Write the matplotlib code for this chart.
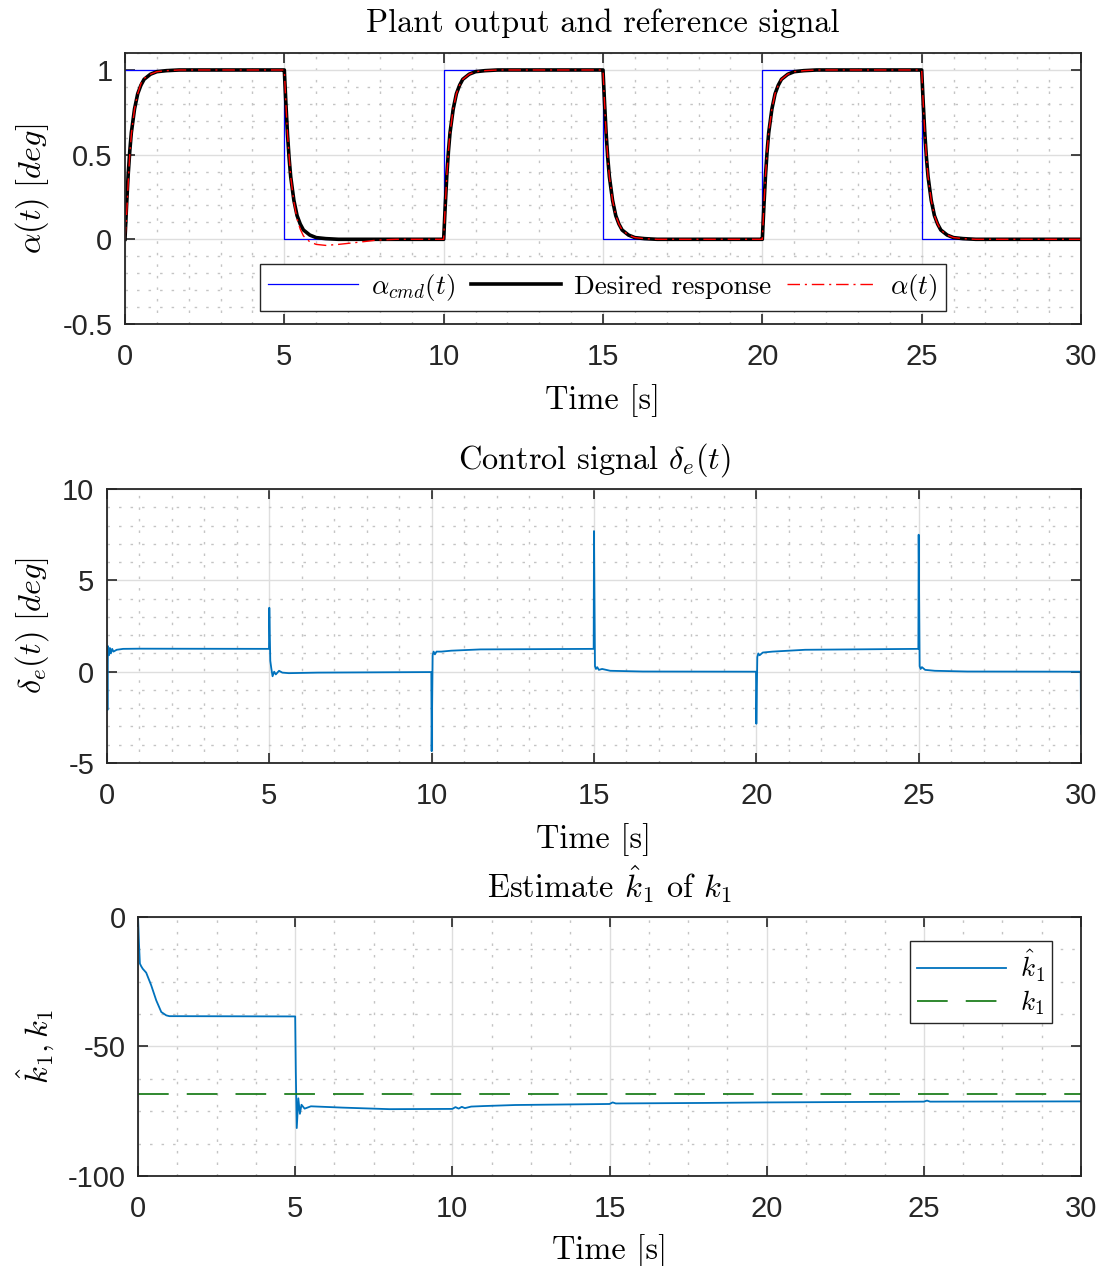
import numpy as np
import matplotlib
matplotlib.use("Agg")
import matplotlib.pyplot as plt
from matplotlib.ticker import MultipleLocator

plt.rcParams['mathtext.fontset'] = 'cm'
plt.rcParams['axes.unicode_minus'] = False
plt.rcParams['font.family'] = ['Liberation Sans', 'DejaVu Sans']

# ---- plant output / reference ----
t_up = [0, 10, 20]          # command switches to 1
t_down = [5, 15, 25]        # command switches to 0
# shape of the desired step response (time after switch, value)
step_t = [0, 0.05, 0.1, 0.15, 0.2, 0.3, 0.4, 0.5, 0.6, 0.8, 1.0, 1.3, 1.7, 2.5, 4.99]
step_y = [0, 0.20, 0.38, 0.52, 0.63, 0.77, 0.86, 0.91, 0.945, 0.975, 0.99, 0.996, 1.0, 1.0, 1.0]
# plant output on the first rise and first drop (undershoot); later it follows the desired response
alpha_fall1_t = [0, 0.05, 0.1, 0.2, 0.3, 0.4, 0.5, 0.6, 0.8, 1.0, 1.3, 1.7, 2.2, 2.9, 3.5, 4.99]
alpha_fall1_y = [1, 0.80, 0.62, 0.37, 0.22, 0.12, 0.06, 0.02, -0.015, -0.03, -0.036, -0.03, -0.02, -0.005, 0.0, 0.0]
alpha_rise1_t = [0, 0.05, 0.1, 0.15, 0.2, 0.3, 0.4, 0.5, 0.6, 0.8, 1.0, 1.3, 1.7, 2.5, 4.99]
alpha_rise1_y = [0, 0.14, 0.33, 0.50, 0.62, 0.77, 0.86, 0.92, 0.95, 0.975, 0.99, 0.996, 1.0, 1.0, 1.0]

cmd_t = [0, 5, 5, 10, 10, 15, 15, 20, 20, 25, 25, 30]
cmd_y = [1, 1, 0, 0, 1, 1, 0, 0, 1, 1, 0, 0]

# ---- control signal ----
de_t = [0, 0.015, 0.03, 0.06, 0.09, 0.12, 0.16, 0.2, 0.3, 0.5, 1.0, 4.99,
        5.0, 5.03, 5.06, 5.1, 5.15, 5.2, 5.3, 5.4, 5.6, 6.5, 9.99,
        10.0, 10.03, 10.06, 10.1, 10.15, 10.3, 10.6, 11.5, 14.99,
        15.0, 15.03, 15.06, 15.1, 15.15, 15.25, 15.5, 16.5, 19.99,
        20.0, 20.03, 20.06, 20.1, 20.2, 20.5, 21.5, 24.99,
        25.0, 25.03, 25.06, 25.1, 25.2, 25.5, 26.5, 29.99, 30.0]
de_v = [1.3, -2.1, 1.4, 0.9, 1.3, 1.0, 1.25, 1.1, 1.2, 1.25, 1.26, 1.25,
        3.5, 0.6, 0.2, -0.25, 0.0, -0.15, 0.05, -0.05, -0.08, -0.05, -0.02,
        -4.35, 0.9, 1.1, 0.95, 1.1, 1.1, 1.15, 1.22, 1.25,
        7.7, 0.3, 0.15, 0.25, 0.1, 0.15, 0.05, 0.01, 0.0,
        -2.85, 0.8, 1.0, 0.9, 1.05, 1.1, 1.2, 1.25,
        7.5, 0.3, 0.15, 0.25, 0.1, 0.05, 0.01, 0.0, -3.4]

# ---- parameter estimate ----
k_t = [0, 0.03, 0.06, 0.1, 0.15, 0.26, 0.42, 0.58, 0.74, 0.9, 1.0, 1.2, 5.0,
       5.02, 5.05, 5.1, 5.15, 5.2, 5.3, 5.5, 6.5, 8.0, 10.0, 10.1, 10.2, 10.3,
       10.4, 10.6, 11.0, 12.0, 15.0, 15.1, 15.2, 18.0, 20.0, 25.0, 25.1, 25.2, 30.0]
k_hat = [0, -10, -18, -19, -20, -21.5, -26.4, -32.2, -36.7, -38.0, -38.3, -38.3, -38.4,
         -60, -81.5, -70, -76, -72.5, -74, -73.1, -73.6, -74.2, -74.1, -73.4, -74.0, -73.3,
         -73.8, -73.2, -73.0, -72.6, -72.2, -71.6, -72.0, -71.8, -71.6, -71.3, -70.9, -71.3, -71.2]
k1_true = -68.5

mblue = '#0072BD'
cm_font = 'cmr10'
FS = 23.3   # titles / axis labels
TFS = 21    # tick labels
LFS = 19.5  # legends


def build(shape_t, shape_y, start, fall=False):
    tt = [start + s for s in shape_t]
    yy = [1 - v for v in shape_y] if fall else list(shape_y)
    return tt, yy


des_t, des_y, al_t, al_y = [], [], [], []
for s in sorted(t_up + t_down):
    fall = s in t_down
    tt, yy = build(step_t, step_y, s, fall)
    des_t += tt
    des_y += yy
    if s == 0:
        tt = [s + v for v in alpha_rise1_t]
        yy = alpha_rise1_y
    elif s == 5:
        tt = [s + v for v in alpha_fall1_t]
        yy = alpha_fall1_y
    al_t += tt
    al_y += yy


def style_axes(ax, xmin_step, ymin_step):
    ax.xaxis.set_minor_locator(MultipleLocator(xmin_step))
    ax.yaxis.set_minor_locator(MultipleLocator(ymin_step))
    ax.grid(True, which='major', color='#dedede', lw=1.0, ls='-')
    ax.grid(True, which='minor', color='#c4c4c4', lw=1.0, ls=(0, (1.8, 6.5)))
    ax.set_axisbelow(True)
    ax.tick_params(which='major', direction='in', length=7, width=1.2, top=True, right=True,
                   labelsize=TFS, colors='#262626', pad=9)
    ax.tick_params(axis='x', which='major', pad=14)
    ax.tick_params(which='minor', length=0)
    for sp in ax.spines.values():
        sp.set_color('#262626')
        sp.set_linewidth(1.3)


fig = plt.figure(figsize=(11.05, 12.66), dpi=100)

# top
ax1 = fig.add_axes([0.1131, 0.7441, 0.8652, 0.2140])
ax1.plot(cmd_t, cmd_y, color='b', lw=0.9, label=r'$\alpha_{cmd}(t)$')
ax1.plot(des_t, des_y, color='k', lw=2.6, label='Desired response')
ax1.plot(al_t, al_y, color='r', lw=1.0, dashes=(9, 3.5, 1.5, 3.5), label=r'$\alpha(t)$')
ax1.set_xlim(0, 30)
ax1.set_ylim(-0.5, 1.1)
ax1.set_yticks([-0.5, 0, 0.5, 1])
ax1.set_yticklabels(['-0.5', '0', '0.5', '1'])
style_axes(ax1, 1, 0.1)
ax1.set_title('Plant output and reference signal', family=cm_font, fontsize=FS, pad=15)
ax1.set_xlabel('Time [s]', family=cm_font, fontsize=FS, labelpad=9)
ax1.set_ylabel(r'$\alpha(t)\ [deg]$', fontsize=FS, labelpad=8)
leg = ax1.legend(loc='lower center', bbox_to_anchor=(0.5, 0.048), ncol=3, fancybox=False,
                 edgecolor='#262626', framealpha=1, prop={'family': cm_font, 'size': LFS},
                 handlelength=3.3, columnspacing=0.6, handletextpad=0.5, borderpad=0.3,
                 borderaxespad=0)
leg.get_frame().set_linewidth(1.0)

# middle
ax2 = fig.add_axes([0.0968, 0.3973, 0.8815, 0.2164])
ax2.plot(de_t, de_v, color=mblue, lw=1.3)
ax2.set_xlim(0, 30)
ax2.set_ylim(-5, 10)
ax2.set_yticks([-5, 0, 5, 10])
style_axes(ax2, 1, 1)
ax2.set_title(r'Control signal $\delta_e(t)$', family=cm_font, fontsize=FS, pad=15)
ax2.set_xlabel('Time [s]', family=cm_font, fontsize=FS, labelpad=9)
ax2.set_ylabel(r'$\delta_e(t)\ [deg]$', fontsize=FS, labelpad=8)

# bottom
ax3 = fig.add_axes([0.1249, 0.0711, 0.8534, 0.2046])
ax3.plot(k_t, k_hat, color=mblue, lw=1.3, label=r'$\hat{k}_1$')
ax3.axhline(k1_true, color='#1f7f1f', lw=1.3, dashes=(17, 10), label=r'$k_1$')
ax3.set_xlim(0, 30)
ax3.set_ylim(-100, 0)
ax3.set_yticks([-100, -50, 0])
style_axes(ax3, 1.25, 12.5)
ax3.set_title(r'Estimate $\hat{k}_1$ of $k_1$', family=cm_font, fontsize=FS, pad=14)
ax3.set_xlabel('Time [s]', family=cm_font, fontsize=FS, labelpad=8)
ax3.set_ylabel(r'$\hat{k}_1, k_1$', fontsize=FS, labelpad=8)
leg3 = ax3.legend(loc='upper right', bbox_to_anchor=(0.969, 0.907), fancybox=False,
                  edgecolor='#262626', framealpha=1, prop={'size': LFS},
                  handlelength=3.3, handletextpad=0.5, borderpad=0.25, labelspacing=0.15,
                  borderaxespad=0)
leg3.get_frame().set_linewidth(1.0)

fig.savefig('out.png', dpi=100)
